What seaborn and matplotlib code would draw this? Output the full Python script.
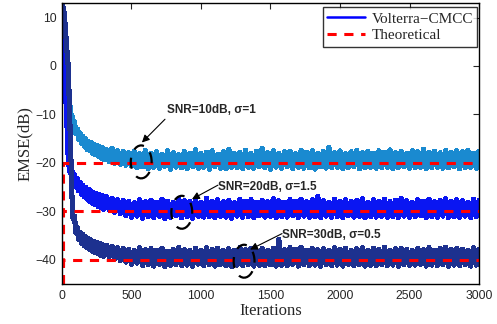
import numpy as np
import pandas as pd
import matplotlib
matplotlib.use('Agg')
import matplotlib.pyplot as plt
from matplotlib.patches import Ellipse
import seaborn as sns

sns.set_style("white")
plt.rcParams['font.family'] = ['Liberation Sans', 'DejaVu Sans']

# iteration grid: dense during the transient, then every 20 iterations
iters = [0, 5, 10, 15, 20, 25, 30, 35, 40, 45, 50, 55, 60, 65, 70, 75, 80,
         90, 100, 110, 120, 130, 140, 150, 160, 170, 180, 190, 200, 210, 220,
         230, 240, 250, 260, 270, 280, 290, 300] + list(range(320, 3001, 20))

# SNR=10dB, sigma=1
emse_10 = [12, 11.5, 10.5, 9, 7.5, 5.5, 3, 0, -2, -4, -6, -7.5, -9, -10, -11.5, -10.5, -12.5,
           -11.5, -14, -13, -15.2, -13.8, -16, -14.5, -16.6, -15.0, -17.2, -15.6, -17.5, -15.8, -18.0,
           -16.2, -18.3, -16.4, -18.6, -16.7, -19.0, -16.9, -19.3,
           -17.2, -19.8, -17.0, -20.1, -17.5, -20.3, -17.6, -20.5,
           -17.9, -20.6, -17.6, -21.0, -18.1, -20.8, -17.4, -21.2, -18.0, -20.9,
           -17.7, -21.1, -18.2, -20.7, -17.5, -21.3, -17.9, -20.9, -18.3, -21.0,
           -17.6, -21.2, -18.0, -20.8, -17.3, -21.1, -18.1, -20.9, -17.8, -21.3,
           -17.5, -20.8, -18.2, -21.1, -17.7, -21.2, -17.2, -20.9, -18.0, -21.0,
           -17.8, -21.2, -17.4, -20.9, -18.1, -21.1, -17.6, -20.8, -17.0, -21.0,
           -17.9, -21.3, -17.5, -20.9, -18.0, -21.1, -17.7, -20.8, -17.6, -21.2,
           -18.1, -20.9, -17.4, -21.1, -17.8, -21.0, -17.5, -21.3, -18.0, -20.8,
           -17.6, -21.1, -16.8, -21.0, -17.9, -20.9, -17.5, -21.2, -18.1, -21.0,
           -17.7, -20.8, -17.4, -21.2, -17.9, -21.0, -17.6, -20.9, -18.0, -21.1,
           -17.5, -21.0, -17.8, -20.9, -17.3, -21.2, -17.9, -21.0, -17.6, -20.8,
           -18.0, -21.1, -17.5, -21.0, -17.7, -20.9, -17.2, -21.2, -17.8, -21.0,
           -17.6, -20.9, -17.9, -21.1, -17.4, -21.0, -17.8, -20.8, -17.5, -21.2,
           -17.7, -21.0, -17.4, -20.9, -18.0, -21.1, -17.6]

# SNR=20dB, sigma=1.5
emse_20 = [12, 9, 6, 2, -2, -5, -8, -11, -16, -19, -20.5, -21.5, -22, -20.8, -23, -21.8, -24,
           -22.5, -25, -23.3, -25.8, -24, -26.5, -24.6, -27, -25, -27.5, -25.4, -28, -25.8, -28.3,
           -26.2, -28.6, -26.4, -29, -26.6, -29.3, -26.8, -29.6,
           -27.0, -29.8, -27.3, -30.2, -27.6, -30.5, -27.8, -30.9,
           -27.9, -31.2, -28.2, -31.0, -27.6, -31.4, -28.0, -31.1, -27.7, -31.3,
           -28.1, -31.0, -27.5, -31.5, -27.9, -31.2, -28.2, -30.9, -27.4, -31.3,
           -27.8, -31.1, -28.0, -31.4, -27.6, -31.0, -28.1, -31.2, -27.3, -31.1,
           -27.9, -31.3, -27.6, -31.0, -28.0, -31.2, -27.7, -31.4, -28.2, -31.0,
           -27.5, -31.2, -27.9, -31.1, -27.6, -31.3, -28.1, -30.9, -27.7, -31.2,
           -28.0, -31.0, -27.4, -31.3, -27.8, -31.1, -28.1, -31.2, -27.6, -30.9,
           -27.9, -31.3, -27.5, -31.0, -28.0, -31.2, -27.6, -31.1, -26.9, -31.3,
           -27.8, -31.0, -28.1, -31.2, -27.5, -31.1, -27.9, -31.3, -27.6, -30.9,
           -28.0, -31.2, -27.7, -31.0, -27.4, -31.3, -28.1, -31.1, -27.6, -31.2,
           -27.9, -31.0, -27.5, -31.2, -28.0, -31.1, -27.7, -31.3, -27.3, -31.0,
           -27.8, -31.2, -28.1, -31.1, -27.6, -30.9, -27.9, -31.3, -27.5, -31.1,
           -28.0, -31.2, -27.7, -31.0, -27.4, -31.3, -27.9, -31.1, -27.6, -31.2,
           -27.8, -31.0, -28.1, -31.3, -27.5, -31.1, -27.8]

# SNR=30dB, sigma=0.5
emse_30 = [12.5, 12.3, 12, 11, 9.5, 7.5, 5.5, 3.5, 1.5, 0, -5, -10, -15, -20, -26, -28.5, -31.5,
           -31, -34.5, -33.3, -35.8, -34.3, -36.6, -34.8, -37.1, -35.2, -37.5, -35.6, -37.9, -35.9, -38.2,
           -36.2, -38.5, -36.4, -38.8, -36.6, -39.1, -36.8, -39.3,
           -37.0, -39.4, -37.2, -39.8, -37.5, -40.2, -37.6, -40.5,
           -37.8, -40.9, -38.1, -40.7, -37.5, -41.2, -37.9, -41.0, -37.7, -41.3,
           -38.0, -40.9, -37.6, -41.4, -38.2, -41.1, -37.8, -41.0, -37.4, -41.2,
           -37.9, -41.1, -38.1, -41.3, -37.6, -40.9, -38.0, -41.2, -37.5, -41.0,
           -37.8, -41.3, -37.6, -41.0, -38.1, -41.2, -37.7, -41.4, -38.0, -41.1,
           -37.5, -41.2, -37.9, -41.0, -37.6, -41.3, -38.1, -41.1, -37.7, -41.2,
           -38.0, -41.0, -37.6, -41.3, -35.8, -41.1, -37.9, -41.2, -37.5, -40.9,
           -37.8, -41.3, -37.4, -41.0, -38.0, -41.2, -37.6, -41.1, -37.9, -41.3,
           -37.7, -41.0, -38.1, -41.2, -37.5, -41.1, -37.8, -41.3, -37.6, -40.9,
           -38.0, -41.2, -37.7, -41.0, -37.5, -41.3, -38.1, -41.1, -37.6, -41.2,
           -37.9, -41.0, -37.4, -41.2, -38.0, -41.1, -37.7, -41.3, -37.6, -41.0,
           -37.8, -41.2, -38.1, -41.1, -37.6, -40.9, -37.9, -41.3, -37.5, -41.1,
           -38.0, -41.2, -37.7, -41.0, -37.4, -41.3, -37.9, -41.1, -37.6, -41.2,
           -37.8, -41.0, -38.0, -41.3, -37.5, -41.1, -37.8]

# theoretical steady-state EMSE
theory_iters = [8, 8, 3000]
theory_levels = [-20, -30, -40]

labels = ['SNR=10dB, σ=1', 'SNR=20dB, σ=1.5', 'SNR=30dB, σ=0.5']
label_pos = [(755, -9.0), (1122, -25.0), (1583, -34.8)]
arrow_tip = [(575, -15.8), (935, -27.5), (1353, -37.9)]
arrow_tail = [(741, -11.0), (1122, -24.6), (1583, -34.6)]
ellipse_c = [(570, -19.8), (862, -30.2), (1310, -40.3)]

kolorlar = ['#1a8ad0', '#0a16f2', '#1d318f']

fig = plt.figure(figsize=(4.97, 3.24), dpi=100)
ax = fig.add_axes([0.1247, 0.1235, 0.8391, 0.8673])

for emse, renk in zip([emse_10, emse_20, emse_30], kolorlar):
    sns.lineplot(x=iters, y=emse, color=renk, linewidth=3.0, estimator=None,
                 sort=False, ax=ax, antialiased=False)

for seviye in theory_levels:
    ax.plot(theory_iters, [-45, seviye, seviye], color='red', linestyle=(0, (3, 2.5)),
            linewidth=2.2)

# legend handles
ax.plot([], [], color='#0000ff', linewidth=1.8, label='Volterra\u2212CMCC')
ax.plot([], [], color='red', linestyle=(0, (3, 2.5)), linewidth=2.2, label='Theoretical')
leg = ax.legend(loc='upper right', bbox_to_anchor=(1.0, 0.99), frameon=True,
                fancybox=False, edgecolor='black',
                prop={'family': 'Liberation Serif', 'size': 11},
                handlelength=2.5, handletextpad=0.4, borderpad=0.3,
                labelspacing=0.2, borderaxespad=0.1)
leg.get_frame().set_linewidth(1.0)

for metin, pos, tip, tail, merkez in zip(labels, label_pos, arrow_tip, arrow_tail, ellipse_c):
    ax.text(pos[0], pos[1], metin, fontsize=8.5, fontweight='bold', va='center', ha='left')
    ax.annotate('', xy=tip, xytext=tail,
                arrowprops=dict(arrowstyle='-|>', color='black', lw=0.8,
                                mutation_scale=11, shrinkA=0, shrinkB=0))
    ax.add_patch(Ellipse(merkez, width=150, height=6.8, fill=False,
                         edgecolor='black', linestyle=(0, (5, 4)), linewidth=1.6,
                         zorder=5))

ax.set_xlim(0, 3000)
ax.set_ylim(-45, 13)
ax.set_xticks([0, 500, 1000, 1500, 2000, 2500, 3000])
ax.set_yticks([-40, -30, -20, -10, 0, 10])
ax.tick_params(direction='in', top=True, right=True, length=4, width=0.8,
               labelsize=8.7, pad=4)
for s in ax.spines.values():
    s.set_color('black')
    s.set_linewidth(1.0)
ax.set_xlabel('Iterations', fontsize=12, family='Liberation Serif', labelpad=1)
ax.set_ylabel('EMSE(dB)', fontsize=12, family='Liberation Serif', labelpad=2)

fig.savefig('out.png', dpi=100)
